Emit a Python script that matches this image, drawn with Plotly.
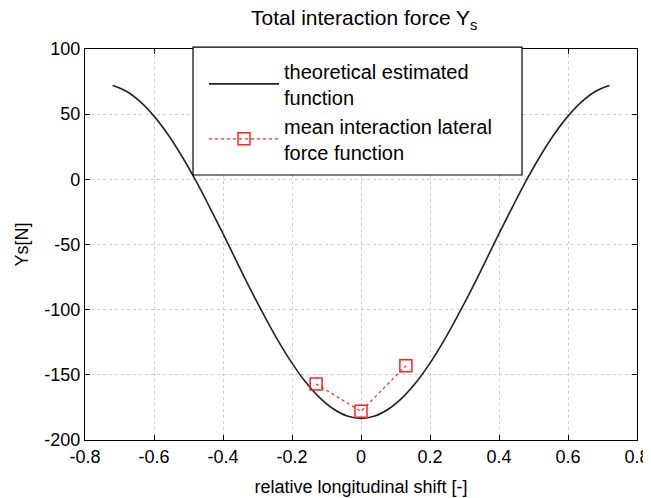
import plotly.graph_objects as go

# Theoretical estimated function
x_theory = [-0.72, -0.68, -0.64, -0.60, -0.56, -0.52, -0.48, -0.44, -0.40, -0.36,
            -0.32, -0.28, -0.24, -0.20, -0.16, -0.12, -0.08, -0.04, 0.0,
            0.04, 0.08, 0.12, 0.16, 0.20, 0.24, 0.28, 0.32, 0.36, 0.40,
            0.44, 0.48, 0.52, 0.56, 0.60, 0.64, 0.68, 0.72]
y_theory = [72.0, 67.6, 59.6, 48.5, 34.6, 18.1, -0.5, -20.7, -41.7, -63.3,
            -84.6, -104.8, -123.9, -141.0, -155.7, -167.5, -176.2, -181.6, -183.4,
            -181.6, -176.2, -167.5, -155.7, -141.0, -123.9, -104.8, -84.6, -63.3, -41.7,
            -20.7, -0.5, 18.1, 34.6, 48.5, 59.6, 67.6, 72.0]

# Mean interaction lateral force function
x_mean = [-0.13, 0.0, 0.13]
y_mean = [-157, -178, -143]

x_ticks = [-0.8, -0.6, -0.4, -0.2, 0, 0.2, 0.4, 0.6, 0.8]
x_tick_labels = ["-0.8", "-0.6", "-0.4", "-0.2", "0", "0.2", "0.4", "0.6", "0.8"]
y_ticks = [-200, -150, -100, -50, 0, 50, 100]
y_tick_labels = ["-200", "-150", "-100", "-50", "0", "50", "100"]

FONT = "Arial, Liberation Sans, Helvetica, sans-serif"

fig = go.Figure()
fig.add_trace(go.Scatter(
    x=x_theory, y=y_theory, mode="lines", line_shape="spline",
    line=dict(color="#222222", width=1.6),
    name="theoretical estimated<br>function",
))
fig.add_trace(go.Scatter(
    x=x_mean, y=y_mean, mode="lines+markers",
    line=dict(color="#ff2020", width=1.2, dash="dot"),
    marker=dict(symbol="square-open", size=12, color="#ff2020", line=dict(width=1.5)),
    name="mean interaction lateral<br>force function",
))

# legend frame
fig.add_shape(type="rect", xref="paper", yref="paper",
              x0=0.1957, x1=0.7917, y0=0.6777, y1=1.005,
              line=dict(color="black", width=1.2), fillcolor="white", layer="above")

axis_common = dict(
    showline=True, linecolor="black", linewidth=1.2, mirror="ticks",
    ticks="inside", ticklen=5, tickcolor="black",
    showgrid=True, gridcolor="#cccccc", griddash="dot", gridwidth=1,
    zeroline=False, automargin=False,
    tickfont=dict(family=FONT, size=18, color="black"),
)

fig.update_layout(
    width=643, height=490,
    paper_bgcolor="white", plot_bgcolor="white",
    margin=dict(l=77, r=14, t=41, b=58),
    font=dict(family=FONT, color="black"),
    title=dict(text="Total interaction force Y<sub>s</sub>", x=0.554, xanchor="center",
               y=0.995, yref="container", yanchor="top",
               font=dict(family=FONT, size=21, color="black")),
    xaxis=dict(range=[-0.8, 0.8], tickvals=x_ticks, ticktext=x_tick_labels,
               title=dict(text="relative longitudinal shift [-]", standoff=14,
                          font=dict(family=FONT, size=18, color="black")),
               **axis_common),
    yaxis=dict(range=[-200, 100], tickvals=y_ticks, ticktext=y_tick_labels,
               title=dict(text="Ys[N]", standoff=10,
                          font=dict(family=FONT, size=18, color="black")),
               **axis_common),
    showlegend=True,
    legend=dict(x=0.2156, y=0.994, xanchor="left", yanchor="top",
                bgcolor="rgba(0,0,0,0)", borderwidth=0,
                font=dict(family=FONT, size=20, color="black"),
                itemwidth=70, tracegroupgap=14),
)

fig.write_html("out.html")
